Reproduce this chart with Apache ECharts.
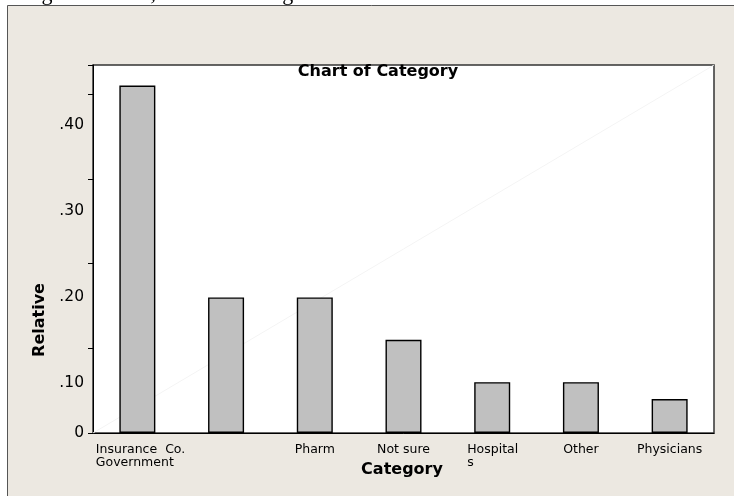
<!DOCTYPE html>
<html>
<head>
<meta charset="utf-8">
<script src="https://cdn.jsdelivr.net/npm/echarts@6/dist/echarts.min.js"></script>
<style>
  html, body { margin: 0; padding: 0; background: #fff; }
  #chart { width: 734px; height: 496px; }
</style>
</head>
<body>
<div id="chart"></div>
<script>
// category labels as printed under the bars
const categories = ['Insurance  Co.\nGovernment', '', 'Pharm', 'Not sure', 'Hospital\ns', 'Other', 'Physicians']
// relative frequencies
const relative = [0.41, 0.16, 0.16, 0.11, 0.06, 0.06, 0.04]
// y tick labels (printed a bit off the tick marks in the original)
const yTickValues = [0.1, 0.2, 0.3, 0.4]
const yTickLabels = ['.10', '.20', '.30', '.40']
const yMax = 0.4343
// faint diagonal guide across the plot
const diagX = [0, 1]
const diagY = [0, yMax]

const labelFont = 'DejaVu Sans, Verdana, sans-serif'

const chart = echarts.init(document.getElementById('chart'))

chart.setOption({
  animation: false,
  backgroundColor: '#fff',
  title: {
    text: 'Chart of Category',
    left: 378,
    top: 64,
    textAlign: 'center',
    padding: 0,
    textStyle: { fontFamily: labelFont, fontSize: 16, fontWeight: 'bold', color: '#000' }
  },
  graphic: [
    {
      type: 'rect',
      z: -10,
      shape: { x: 7.5, y: 5.5, width: 760, height: 520 },
      style: { fill: '#ece8e1', stroke: '#555', lineWidth: 1 }
    },
    {
      type: 'text',
      z: -5,
      x: 0,
      y: 5,
      style: {
        text: 'Using MINITAB, the Pareto diagram is:',
        font: '22px "Liberation Serif", "Times New Roman", serif',
        fill: '#000',
        verticalAlign: 'bottom'
      }
    },
    {
      type: 'text',
      x: 40,
      y: 320,
      rotation: Math.PI / 2,
      style: {
        text: 'Relative',
        font: 'bold 16px ' + labelFont,
        fill: '#000',
        align: 'center',
        verticalAlign: 'middle'
      }
    },
    {
      type: 'text',
      x: 402,
      y: 470,
      style: {
        text: 'Category',
        font: 'bold 16px ' + labelFont,
        fill: '#000',
        align: 'center',
        verticalAlign: 'middle'
      }
    }
  ],
  grid: {
    left: 93,
    top: 65,
    right: 20,
    bottom: 63,
    show: true,
    backgroundColor: '#fff',
    borderColor: '#333',
    borderWidth: 1.5
  },
  xAxis: [
    {
      type: 'category',
      data: categories,
      axisLine: { lineStyle: { color: '#000', width: 1 } },
      axisTick: { alignWithLabel: true, length: 5, inside: false, lineStyle: { color: '#000' } },
      axisLabel: {
        interval: 0,
        margin: 10,
        color: '#000',
        fontFamily: labelFont,
        fontSize: 12.5,
        lineHeight: 13,
        formatter: function (v, i) {
          if (i === 0) return '{w|' + v.split('\n').join('}\n{w|') + '}'
          if (v.indexOf('\n') >= 0) return '{h|' + v.split('\n').join('}\n{h|') + '}'
          return v
        },
        rich: {
          w: { width: 83, align: 'left', fontFamily: labelFont, fontSize: 12.5, lineHeight: 13, color: '#000' },
          h: { width: 50, align: 'left', fontFamily: labelFont, fontSize: 12.5, lineHeight: 13, color: '#000' }
        }
      },
      splitLine: { show: false }
    },
    {
      type: 'value',
      min: 0,
      max: 1,
      show: false
    }
  ],
  yAxis: [
    {
      type: 'value',
      min: 0,
      max: yMax,
      interval: 0.1,
      axisLine: { show: true, lineStyle: { color: '#000', width: 1 } },
      axisTick: { show: true, length: 5, lineStyle: { color: '#000' } },
      axisLabel: {
        margin: 9,
        color: '#000',
        fontFamily: labelFont,
        fontSize: 15.5,
        formatter: function (v) { return v === 0 ? '0' : '' }
      },
      splitLine: { show: false }
    },
    {
      // label-only axis: the printed tick labels sit about half a step off the ticks
      type: 'value',
      position: 'left',
      min: 0.0419,
      max: 0.4697,
      axisLine: { show: false },
      axisTick: { show: false },
      splitLine: { show: false },
      axisLabel: {
        margin: 9,
        color: '#000',
        fontFamily: labelFont,
        fontSize: 15.5,
        customValues: yTickValues,
        formatter: function (v) {
          const k = yTickValues.findIndex(t => Math.abs(t - v) < 1e-6)
          return k >= 0 ? yTickLabels[k] : ''
        }
      }
    }
  ],
  series: [
    {
      type: 'line',
      xAxisIndex: 1,
      yAxisIndex: 0,
      data: diagX.map((x, i) => [x, diagY[i]]),
      symbol: 'none',
      silent: true,
      z: 1,
      lineStyle: { color: '#f4f4f4', width: 1 }
    },
    {
      type: 'bar',
      data: relative,
      barWidth: 36,
      z: 3,
      itemStyle: { color: '#c0c0c0', borderColor: '#000', borderWidth: 1.4 }
    }
  ]
})
</script>
</body>
</html>
